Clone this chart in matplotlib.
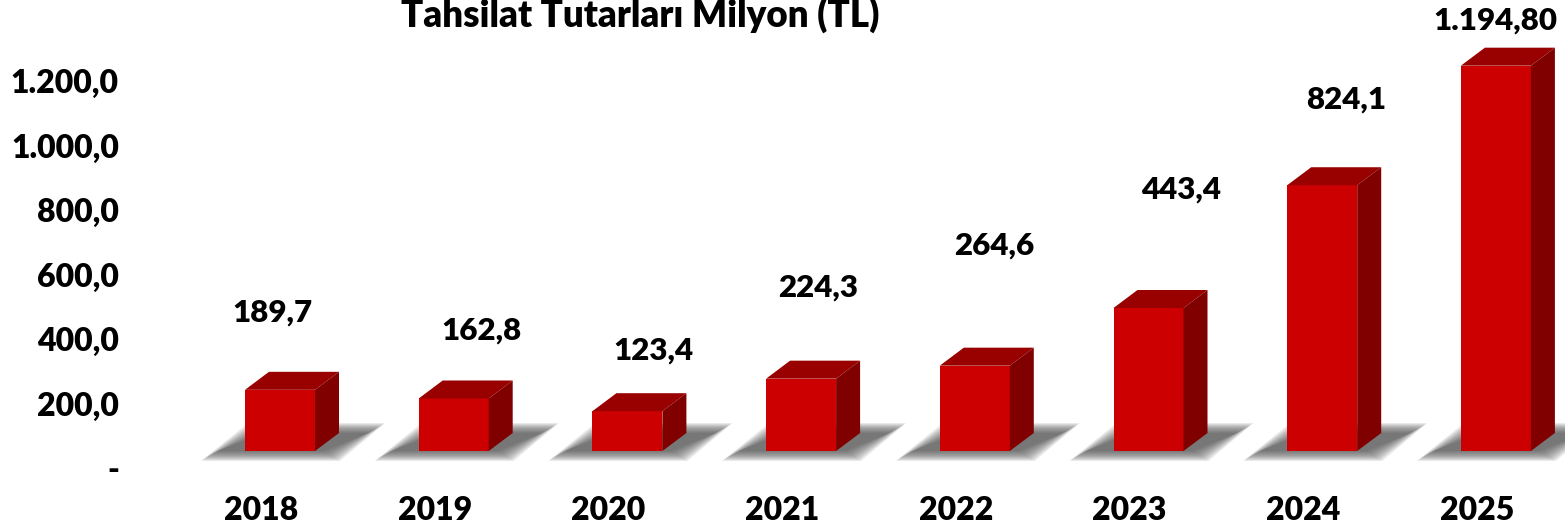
import matplotlib
matplotlib.use("Agg")
import matplotlib.pyplot as plt
from matplotlib.patches import Polygon
from matplotlib.transforms import ScaledTranslation
import numpy as np

# ---- data ----
years = ["2018", "2019", "2020", "2021", "2022", "2023", "2024", "2025"]
values = [189.7, 162.8, 123.4, 224.3, 264.6, 443.4, 824.1, 1194.8]
value_labels = ["189,7", "162,8", "123,4", "224,3", "264,6", "443,4", "824,1", "1.194,80"]
ytick_values = [0, 200, 400, 600, 800, 1000, 1200]
ytick_labels = ["-", "200,0", "400,0", "600,0", "800,0", "1.000,0", "1.200,0"]
title = "Tahsilat Tutarları Milyon (TL)"

# label placement offsets (pixels) relative to bar front centre/top
label_dx = [-8, 28, 26, 17, 19, 33, 24, -1]
label_dy = [77, 68, 61, 91, 120, 118, 86, 45]

W, H, DPI = 1565, 530, 100
FONT = "Lato"
WEIGHT = "heavy"
plt.rcParams['font.family'] = [FONT, 'DejaVu Sans']

fig = plt.figure(figsize=(W / DPI, H / DPI), dpi=DPI)
ax = fig.add_axes([130 / W, 0, 1 - 130 / W, 1])
px_per_x = 173.7
px_per_y = 0.3225
x0 = -(261 - 130) / px_per_x
ax.set_xlim(x0, x0 + (W - 130) / px_per_x)
ax.set_ylim(-(H - 451) / px_per_y, 451 / px_per_y)

front = "#CC0000"
top_c = "#990000"
side_c = "#800000"

off = 19 / px_per_x          # front centre offset from category
fw = 70 / px_per_x           # front width
ddx = 24 / px_per_x          # depth in x
ddy = 18 / px_per_y          # depth in y
xs = np.arange(len(years))

# soft shadows
for i in xs:
    L = i + off - fw / 2
    R = i + off + fw / 2
    n = 12
    for k in range(n):
        s = k / (n - 1)
        bx = (1 - s) * 16
        by = (1 - s) * 10
        pts = [(L + (-44 + bx) / px_per_x, (-10 + by) / px_per_y),
               (R + (25 - bx) / px_per_x, (-10 + by) / px_per_y),
               (R + (70 - bx) / px_per_x, (28 - by) / px_per_y),
               (L + (3 + bx) / px_per_x, (28 - by) / px_per_y)]
        ax.add_patch(Polygon(pts, closed=True, facecolor="#505050",
                             edgecolor="none", alpha=0.11, zorder=1))

# bars: front face via ax.bar, top and side faces as polygons
ax.bar(xs + off, values, width=fw, color=front, zorder=3, edgecolor="none")
for i, v in zip(xs, values):
    L = i + off - fw / 2
    R = i + off + fw / 2
    ax.add_patch(Polygon([(L, v), (R, v), (R + ddx, v + ddy), (L + ddx, v + ddy)],
                         closed=True, facecolor=top_c, edgecolor="none", zorder=3))
    ax.add_patch(Polygon([(R, 0), (R + ddx, ddy), (R + ddx, v + ddy), (R, v)],
                         closed=True, facecolor=side_c, edgecolor="none", zorder=3))

# value labels
for i, v, lab, dx, dy in zip(xs, values, value_labels, label_dx, label_dy):
    ax.annotate(lab, xy=(i + off, v), xytext=(dx * 72 / DPI, dy * 72 / DPI),
                textcoords="offset points", ha="center", va="center",
                fontsize=22.5, fontweight=WEIGHT, color="black", zorder=5)

# axes styling
for sp in ax.spines.values():
    sp.set_visible(False)
ax.set_xticks(xs)
ax.set_xticklabels([])
for i, y in zip(xs, years):
    ax.text(i, -(510 - 451) / px_per_y, y, ha="center", va="center",
            fontsize=23, fontweight=WEIGHT)
ax.set_yticks(ytick_values)
ax.set_yticklabels(ytick_labels, fontsize=23, fontweight=WEIGHT)
ax.tick_params(axis="both", length=0)
ax.tick_params(axis="y", pad=8)
shift = ScaledTranslation(0, -17 / DPI, fig.dpi_scale_trans)
for lbl in ax.get_yticklabels():
    lbl.set_transform(lbl.get_transform() + shift)

fig.text(640 / W, 1 - 27 / H, title, ha="center", va="baseline",
         fontsize=26.5, fontweight=WEIGHT)

fig.savefig("out.png", dpi=DPI)
